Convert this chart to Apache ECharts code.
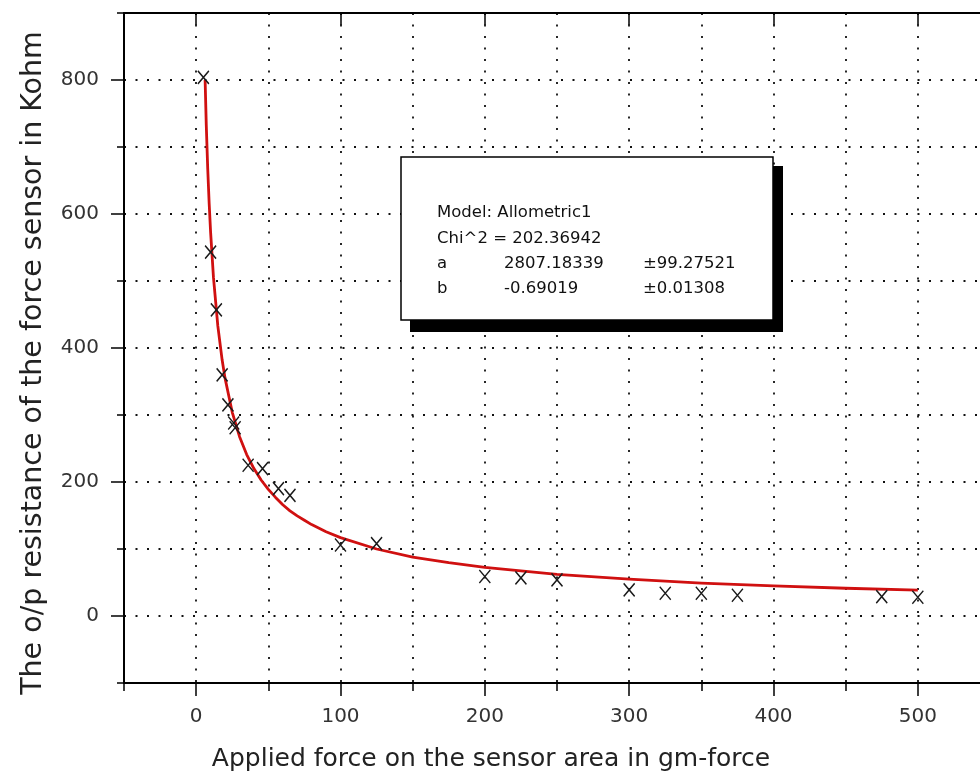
<!DOCTYPE html>
<html>
<head>
<meta charset="utf-8">
<script src="https://cdn.jsdelivr.net/npm/echarts@6/dist/echarts.min.js"></script>
<style>
html,body{margin:0;padding:0;background:#fff;}
#chart{width:980px;height:782px;}
</style>
</head>
<body>
<div id="chart"></div>
<script>
// measured points (force in gm-force, resistance in Kohm)
var forceX = [5, 10, 14, 18, 22, 26, 27, 36, 46, 57, 65, 100, 125, 200, 225, 250, 300, 325, 350, 375, 475, 500];
var resistY = [804, 543, 457, 360, 315, 288, 281, 225, 220, 190, 180, 106, 108, 59, 57, 54, 39, 34, 34, 31, 29, 28];
// fitted curve
var fitX = [6.2, 7, 8, 9, 10, 12, 15, 18, 20, 25, 30, 35, 40, 45, 50, 55, 60, 65, 70, 75, 80, 90, 100, 125, 150, 175, 200, 250, 300, 350, 400, 450, 500];
var fitY = [800, 733, 668, 616, 573, 505, 433, 382, 355, 304, 268, 241, 220, 203, 189, 177, 166, 157, 149.5, 143, 136.4, 125.7, 117, 100, 88, 79.5, 72.5, 62, 55, 49, 45, 41.4, 38.5];
// ticks
var xMajorTicks = [0, 100, 200, 300, 400, 500];
var yMajorTicks = [0, 200, 400, 600, 800];
var xTitle = 'Applied force on the sensor area in gm-force';
var yTitle = 'The o/p resistance of the force sensor in Kohm';
var boxLines = [
  ['Model: Allometric1', '', ''],
  ['Chi^2 = 202.36942', '', ''],
  ['a', '2807.18339', '±99.27521'],
  ['b', '-0.69019', '±0.01308']
];

var FONT = 'DejaVu Sans';
var chart = echarts.init(document.getElementById('chart'), null, {renderer: 'canvas'});

var scatterData = forceX.map(function (x, i) { return [x, resistY[i]]; });
var fitData = fitX.map(function (x, i) { return [x, fitY[i]]; });

var dotted = {show: true, lineStyle: {type: [2, 9.5], color: '#111', width: 1.8}};

var graphics = [
  {type: 'rect', shape: {x: 410, y: 166, width: 373, height: 166}, style: {fill: '#000'}, z: 100},
  {type: 'rect', shape: {x: 401, y: 157, width: 372, height: 163}, style: {fill: '#fff', stroke: '#000', lineWidth: 1.5}, z: 101}
];
var colX = [437, 504, 643];
var rowY = [213, 239, 264, 289];
boxLines.forEach(function (row, r) {
  row.forEach(function (t, c) {
    if (!t) return;
    graphics.push({type: 'text', x: colX[c], y: rowY[r], z: 102,
      style: {text: t, fill: '#111', font: '16.5px "' + FONT + '"', verticalAlign: 'middle'}});
  });
});

var option = {
  animation: false,
  backgroundColor: '#fff',
  textStyle: {fontFamily: FONT},
  grid: {left: 124, width: 866, top: 13, height: 670, containLabel: false, outerBoundsMode: 'none'},
  xAxis: [
    {
      type: 'value', position: 'bottom', min: -50, max: 550, interval: 50,
      axisLine: {show: true, onZero: false, lineStyle: {color: '#000', width: 2}},
      axisTick: {show: true, inside: false, length: 8, lineStyle: {color: '#000', width: 1.5}},
      axisLabel: {
        show: true, margin: 24, fontSize: 20, color: '#333', fontFamily: FONT,
        formatter: function (v) { return xMajorTicks.indexOf(v) >= 0 ? String(v) : ''; }
      },
      splitLine: dotted,
      name: xTitle, nameLocation: 'middle', nameGap: 64,
      nameTextStyle: {fontSize: 25, color: '#222', fontFamily: FONT, padding: [0, 132, 0, 0]}
    },
    {
      type: 'value', position: 'bottom', min: -50, max: 550,
      axisLine: {show: false, onZero: false},
      axisTick: {show: true, inside: false, length: 13, customValues: xMajorTicks, lineStyle: {color: '#000', width: 1.5}},
      axisLabel: {show: false},
      splitLine: {show: false}
    },
    {
      type: 'value', position: 'top', min: -50, max: 550,
      axisLine: {show: true, onZero: false, lineStyle: {color: '#000', width: 2}},
      axisTick: {show: true, inside: true, length: 12, customValues: xMajorTicks, lineStyle: {color: '#000', width: 1.5}},
      axisLabel: {show: false},
      splitLine: {show: false}
    }
  ],
  yAxis: [
    {
      type: 'value', position: 'left', min: -100, max: 900, interval: 100,
      axisLine: {show: true, onZero: false, lineStyle: {color: '#000', width: 2}},
      axisTick: {show: true, inside: false, length: 7, lineStyle: {color: '#000', width: 1.5}},
      axisLabel: {
        show: true, margin: 25, fontSize: 20, color: '#333', fontFamily: FONT,
        formatter: function (v) { return yMajorTicks.indexOf(v) >= 0 ? String(v) : ''; }
      },
      splitLine: dotted,
      name: yTitle, nameLocation: 'middle', nameGap: 76,
      nameTextStyle: {fontSize: 28.5, color: '#222', fontFamily: FONT, padding: [0, 30, 0, 0]}
    },
    {
      type: 'value', position: 'left', min: -100, max: 900,
      axisLine: {show: false, onZero: false},
      axisTick: {show: true, inside: false, length: 13, customValues: yMajorTicks, lineStyle: {color: '#000', width: 1.5}},
      axisLabel: {show: false},
      splitLine: {show: false}
    }
  ],
  series: [
    {
      type: 'line', xAxisIndex: 0, yAxisIndex: 0, data: fitData, smooth: false,
      showSymbol: false, symbol: 'none',
      lineStyle: {color: '#d01010', width: 2.8, join: 'round'}, z: 3
    },
    {
      type: 'scatter', xAxisIndex: 0, yAxisIndex: 0, data: scatterData,
      symbol: 'path://M0,0L10,12M10,0L0,12', symbolSize: [11, 13],
      itemStyle: {color: 'none', borderColor: '#1a1a1a', borderWidth: 1.5, opacity: 1}, z: 4
    }
  ],
  graphic: graphics
};
chart.setOption(option);
</script>
</body>
</html>
